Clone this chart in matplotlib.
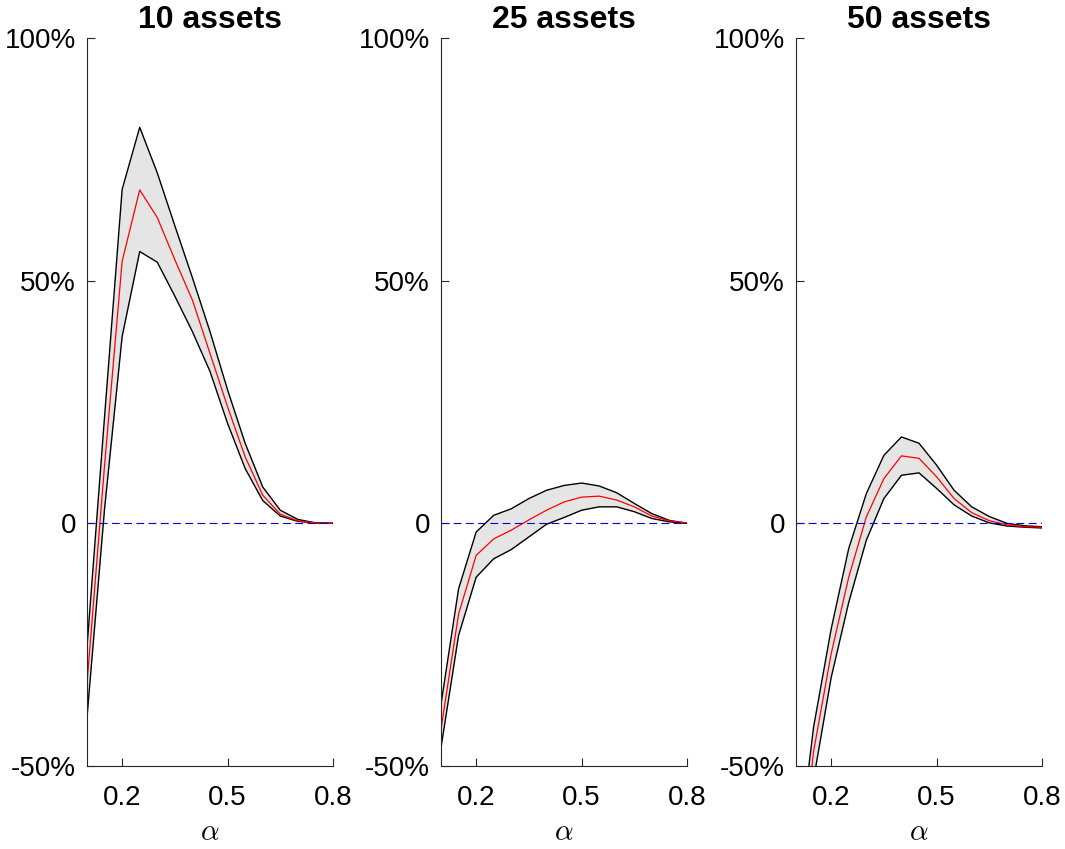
import matplotlib
matplotlib.use('Agg')
import matplotlib.pyplot as plt

plt.rcParams['font.family'] = ['Liberation Sans', 'DejaVu Sans']
plt.rcParams['mathtext.fontset'] = 'cm'

# alpha grid
alpha = [0.10, 0.15, 0.20, 0.25, 0.30, 0.35, 0.40, 0.45, 0.50, 0.55, 0.60, 0.65, 0.70, 0.75, 0.80]

titles = ['10 assets', '25 assets', '50 assets']

# 10 assets (values in %)
upper_10 = [-25.5, 22.0, 68.8, 81.6, 72.2, 61.3, 50.6, 39.5, 27.5, 16.5, 7.5, 2.7, 0.8, 0.1, 0.0]
mid_10 = [-33.0, 12.0, 54.0, 68.7, 63.0, 54.3, 46.0, 35.0, 24.0, 13.7, 5.8, 1.9, 0.5, 0.1, 0.0]
lower_10 = [-40.0, 3.0, 38.5, 56.0, 53.8, 46.8, 39.5, 31.3, 20.6, 11.3, 4.7, 1.5, 0.4, 0.1, 0.0]

# 25 assets
upper_25 = [-37.3, -13.5, -1.8, 1.65, 3.0, 5.1, 6.8, 7.8, 8.3, 7.7, 6.3, 4.1, 2.0, 0.6, 0.0]
mid_25 = [-42.4, -18.7, -6.6, -3.2, -1.4, 0.7, 2.7, 4.4, 5.4, 5.6, 4.8, 3.4, 1.5, 0.5, 0.1]
lower_25 = [-46.2, -23.1, -11.1, -7.3, -5.4, -2.8, -0.2, 1.2, 2.7, 3.4, 3.4, 2.4, 1.0, 0.3, 0.0]

# 50 assets
upper_50 = [-72.0, -42.0, -21.8, -5.2, 6.1, 14.0, 17.8, 16.5, 12.0, 6.8, 3.4, 1.4, 0.0, -0.5, -0.7]
mid_50 = [-80.0, -47.0, -26.9, -11.1, 1.3, 9.2, 13.9, 13.4, 9.6, 5.1, 2.2, 0.55, -0.3, -0.7, -0.8]
lower_50 = [-95.0, -52.8, -31.8, -16.3, -3.5, 5.1, 9.9, 10.4, 7.2, 3.8, 1.5, 0.1, -0.55, -0.8, -0.95]

y_ticks = [-50, 0, 50, 100]
y_ticklabels = ['-50%', '0', '50%', '100%']
x_ticks = [0.2, 0.5, 0.8]
x_ticklabels = ['0.2', '0.5', '0.8']

SPINE = '#262626'


def draw_panel(ax, title, upper, mid, lower):
    ax.fill_between(alpha, lower, upper, color='#e5e5e5', linewidth=0)
    ax.plot(alpha, upper, color='black', lw=1.0)
    ax.plot(alpha, lower, color='black', lw=1.0)
    ax.plot(alpha, mid, color='red', lw=0.9)
    ax.axhline(0, color='#0000d8', lw=0.8, linestyle=(0, (7, 4)))
    ax.set_xlim(0.1, 0.8)
    ax.set_ylim(-50, 100)
    ax.set_yticks(y_ticks)
    ax.set_yticklabels(y_ticklabels)
    ax.set_xticks(x_ticks)
    ax.set_xticklabels(x_ticklabels)
    ax.set_title(title, fontsize=23, fontweight='bold', pad=7)
    ax.set_xlabel(r'$\alpha$', fontsize=21, labelpad=5)
    for s in ['top', 'right']:
        ax.spines[s].set_visible(False)
    for s in ['left', 'bottom']:
        ax.spines[s].set_color(SPINE)
        ax.spines[s].set_linewidth(0.8)
    ax.tick_params(direction='in', length=6, width=0.8, color=SPINE, labelsize=20)
    ax.tick_params(axis='x', pad=14)
    ax.tick_params(axis='y', pad=8)


fig = plt.figure(figsize=(10.65, 8.49), dpi=100)
lefts = [87 / 1065, 441 / 1065, 796 / 1065]
series = [(upper_10, mid_10, lower_10), (upper_25, mid_25, lower_25), (upper_50, mid_50, lower_50)]
for left, title, (up, md, lo) in zip(lefts, titles, series):
    ax = fig.add_axes([left, 83 / 849, 246 / 1065, 728 / 849])
    draw_panel(ax, title, up, md, lo)

plt.savefig('out.png', dpi=100)
